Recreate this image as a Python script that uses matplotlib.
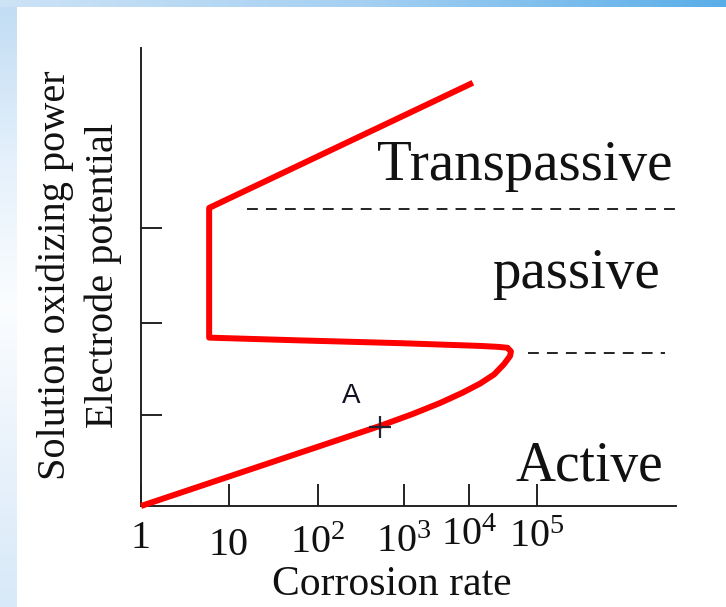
import numpy as np
import matplotlib
matplotlib.use("Agg")
import matplotlib.pyplot as plt
from matplotlib.colors import LinearSegmentedColormap

# ---------------- data ----------------
tick_labels = ["1", "10", "$10^2$", "$10^3$", "$10^4$", "$10^5$"]
tick_pos = [0.0, 0.99, 2.0, 2.97, 3.71, 4.47]          # schematic (non-uniform) positions
y_ticks = [0.99, 1.99, 3.02]

# polarisation curve (schematic units)
curve_x = [0.0, 2.70, 3.07, 3.38, 3.63, 3.83, 3.99, 4.10, 4.17, 4.18, 4.14, 4.03, 3.83, 2.93, 1.80, 0.77, 0.77, 3.75]
curve_y = [0.0, 0.87, 1.00, 1.12, 1.23, 1.33, 1.43, 1.54, 1.63, 1.68, 1.72, 1.73, 1.74, 1.77, 1.80, 1.83, 3.24, 4.60]

upper_dash_x = [1.20, 6.06]
upper_dash_y = [3.23, 3.23]
lower_dash_x = [4.37, 5.92]
lower_dash_y = [1.66, 1.66]

point_A = (2.70, 0.86)

# ---------------- figure ----------------
W, H = 726, 607
fig = plt.figure(figsize=(W / 100, H / 100), dpi=100)
fig.patch.set_facecolor("white")

# decorative gradient border (top and left)
bg = fig.add_axes([0, 0, 1, 1], zorder=-10)
bg.set_axis_off()
bg.set_xlim(0, W)
bg.set_ylim(H, 0)
top_cmap = LinearSegmentedColormap.from_list("top", ["#cde3f6", "#a5d0f2", "#5aaee8"])
bg.imshow(np.linspace(0, 1, 256)[None, :], cmap=top_cmap, aspect="auto",
          extent=[0, W, 7, 0], interpolation="bilinear")
left_cmap = LinearSegmentedColormap.from_list("left", ["#c2ddf4", "#e4f0fb", "#fbfdff", "#e9f2fb", "#d8e9f8"])
bg.imshow(np.linspace(0, 1, 256)[:, None], cmap=left_cmap, aspect="auto",
          extent=[0, 17, H, 7], interpolation="bilinear")

ax = fig.add_axes([141 / W, (H - 506) / H, (676 - 141) / W, (506 - 48) / H])
ax.set_xlim(0, 535 / 88.5)
ax.set_ylim(0, 458 / 92)
ax.patch.set_alpha(0)

for s in ["top", "right"]:
    ax.spines[s].set_visible(False)
for s in ["left", "bottom"]:
    ax.spines[s].set_color("#222222")
    ax.spines[s].set_linewidth(1.4)

ax.set_xticks(tick_pos)
ax.set_xticklabels([])
ax.set_yticks(y_ticks)
ax.set_yticklabels([])
ax.tick_params(axis="x", direction="in", length=16, width=1.4, color="#222222")
ax.tick_params(axis="y", direction="in", length=15, width=1.4, color="#222222")

serif = ["Liberation Serif", "DejaVu Serif"]
plt.rcParams["mathtext.fontset"] = "custom"
plt.rcParams["mathtext.rm"] = "Liberation Serif"
plt.rcParams["mathtext.it"] = "Liberation Serif:italic"

# tick labels (hand-drawn schematic has slightly uneven baselines)
label_base = [-0.092, -0.107, -0.103, -0.101, -0.085, -0.090]
for xp, lab, yb in zip(tick_pos, tick_labels, label_base):
    ax.text(xp, yb, lab, transform=ax.get_xaxis_transform(), ha="center", va="baseline",
            fontsize=29, family=serif, color="#111111", clip_on=False)

# curve
ax.plot(curve_x, curve_y, color="#ff0000", lw=4.3, solid_joinstyle="round",
        solid_capstyle="butt", clip_on=False, zorder=3)

# dashed region separators
ax.plot(upper_dash_x, upper_dash_y, color="#111111", lw=1.3, dashes=(6, 4.5), clip_on=False)
ax.plot(lower_dash_x, lower_dash_y, color="#111111", lw=1.3, dashes=(6, 4.5), clip_on=False)

# point A
ax.plot([point_A[0]], [point_A[1]], marker="+", ms=16, mew=1.6, color="#222233", zorder=4)
ax.text(2.38, 1.12, "A", fontsize=20, family=["Liberation Sans", "DejaVu Sans"],
        ha="center", va="baseline", color="#111122")

# region labels
ax.text(2.67, 3.54, "Transpassive", fontsize=41, family=serif, ha="left", va="baseline", color="#111111")
ax.text(3.97, 2.37, "passive", fontsize=41, family=serif, ha="left", va="baseline", color="#111111")
ax.text(4.23, 0.27, "Active", fontsize=40, family=serif, ha="left", va="baseline", color="#111111")

# axis titles
fig.text(392 / W, 1 - 595 / H, "Corrosion rate", fontsize=30, family=serif,
         ha="center", va="baseline", color="#111111")
fig.text(55 / W, 1 - 275 / H, "Solution oxidizing power", fontsize=29, family=serif,
         ha="center", va="center", rotation=90, color="#111111")
fig.text(103 / W, 1 - 276 / H, "Electrode potential", fontsize=29, family=serif,
         ha="center", va="center", rotation=90, color="#111111")

fig.savefig("out.png", dpi=100)
